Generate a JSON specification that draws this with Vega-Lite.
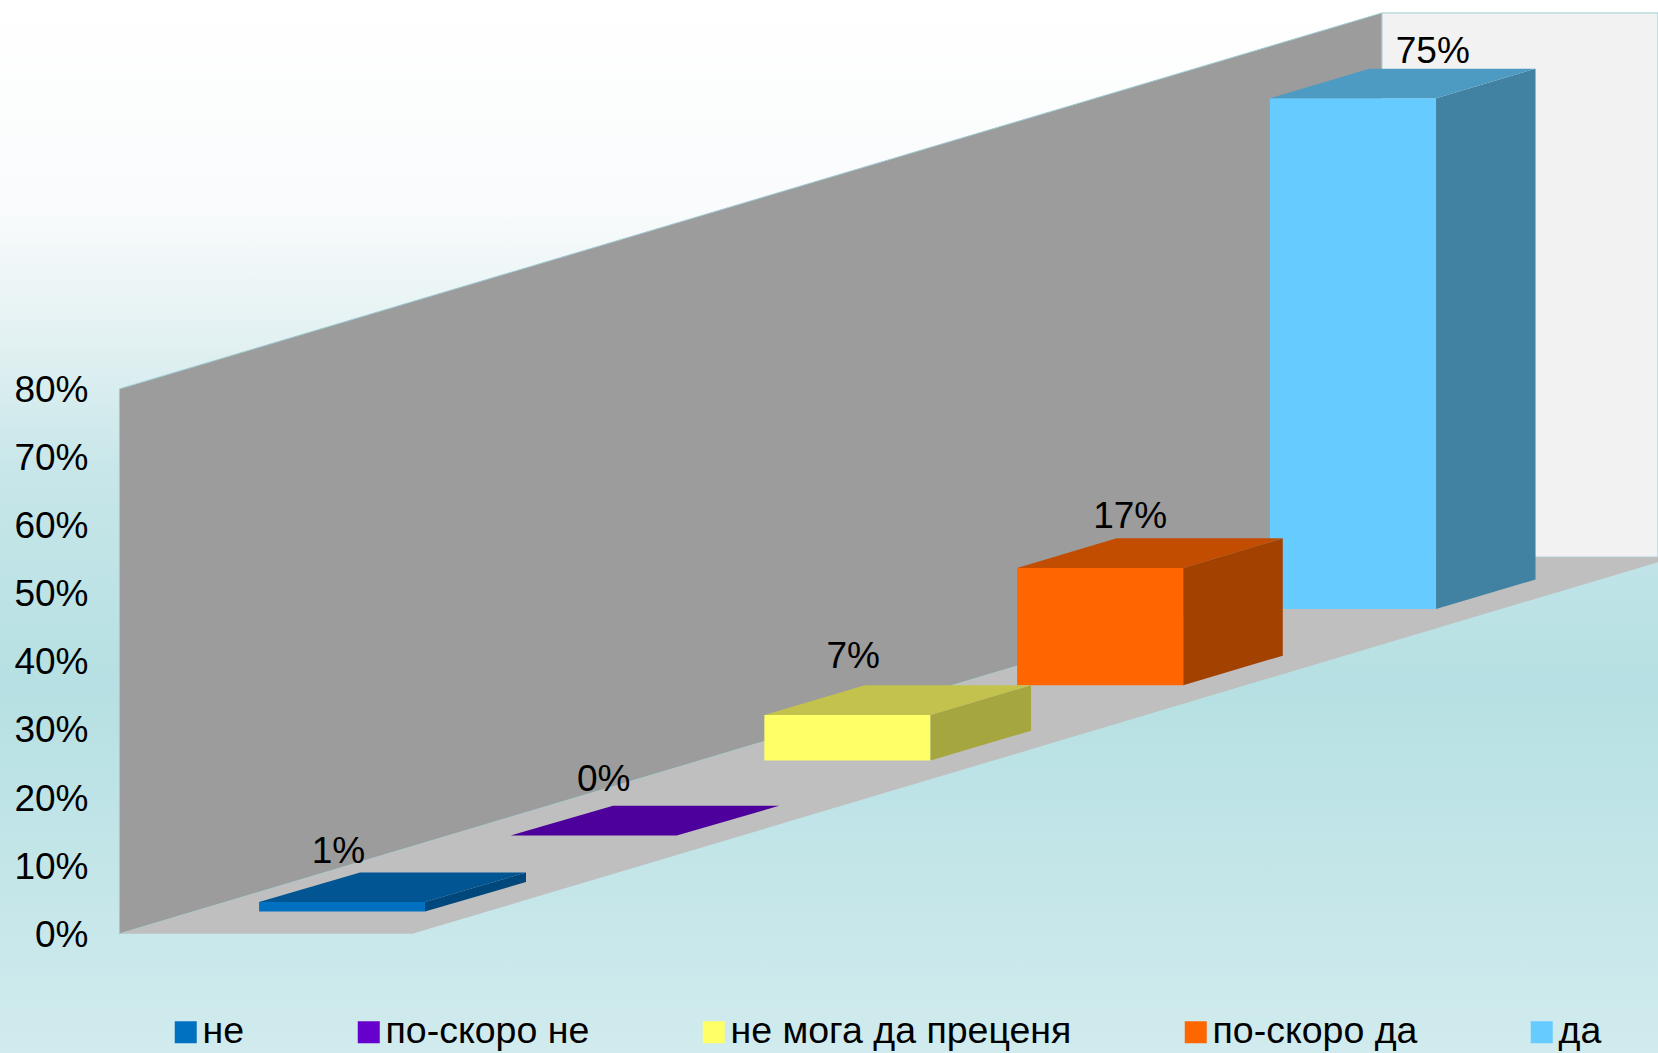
{"$schema":"https://vega.github.io/schema/vega-lite/v6.json","width":1658,"height":1053,"autosize":{"type":"none"},"padding":0,"background":"#ffffff","view":{"stroke":null,"fill":{"gradient":"linear","x1":0,"y1":0,"x2":0,"y2":1,"stops":[{"offset":0,"color":"#ffffff"},{"offset":0.2,"color":"#f9fbfc"},{"offset":0.32,"color":"#e3f1f2"},{"offset":0.45,"color":"#c7e6e9"},{"offset":0.65,"color":"#b6e0e3"},{"offset":1,"color":"#d1ebee"}]}},"config":{"font":"Liberation Sans"},"datasets":{"bars":[{"category":"не","value":1.4,"label":"1%","left":0.553,"right":1.21,"base":3.26,"top":4.66,"labelU":0.867,"labelV":12.11},{"category":"по-скоро не","value":0,"label":"0%","left":1.549,"right":2.207,"base":14.44,"top":14.44,"labelU":1.918,"labelV":22.67},{"category":"не мога да преценя","value":6.7,"label":"7%","left":2.554,"right":3.212,"base":25.46,"top":32.14,"labelU":2.906,"labelV":40.84},{"category":"по-скоро да","value":17.2,"label":"17%","left":3.555,"right":4.213,"base":36.49,"top":53.72,"labelU":4.003,"labelV":61.32},{"category":"да","value":75,"label":"75%","left":4.556,"right":5.214,"base":47.67,"top":122.67,"labelU":5.201,"labelV":129.65}],"sides":[{"category":"не","u":1.21,"v":3.26,"v2":4.66},{"category":"не","u":1.61,"v":7.61,"v2":9.01},{"category":"не мога да преценя","u":3.212,"v":25.46,"v2":32.14},{"category":"не мога да преценя","u":3.61,"v":29.81,"v2":36.49},{"category":"по-скоро да","u":4.213,"v":36.49,"v2":53.72},{"category":"по-скоро да","u":4.607,"v":40.84,"v2":58.07},{"category":"да","u":5.214,"v":47.67,"v2":122.67},{"category":"да","u":5.608,"v":52.02,"v2":127.02}],"tops":[{"category":"не","v":4.66,"u":0.553,"u2":1.21},{"category":"не","v":9.01,"u":0.953,"u2":1.61},{"category":"по-скоро не","v":14.44,"u":1.549,"u2":2.207},{"category":"по-скоро не","v":18.79,"u":1.955,"u2":2.613},{"category":"не мога да преценя","v":32.14,"u":2.554,"u2":3.212},{"category":"не мога да преценя","v":36.49,"u":2.952,"u2":3.61},{"category":"по-скоро да","v":53.72,"u":3.555,"u2":4.213},{"category":"по-скоро да","v":58.07,"u":3.949,"u2":4.607},{"category":"да","v":122.67,"u":4.556,"u2":5.214},{"category":"да","v":127.02,"u":4.95,"u2":5.608}],"walls":[{"wall":"left","u":0,"v":0,"v2":80},{"wall":"left","u":5,"v":55.3,"v2":135.2},{"wall":"right","u":5,"v":55.3,"v2":135.2},{"wall":"right","u":6.093,"v":55.3,"v2":135.2}],"floor":[{"v":0,"u":0,"u2":1.16},{"v":55.3,"u":5,"u2":6.16}]},"layer":[{"data":{"name":"walls"},"mark":{"type":"area","strokeWidth":1,"stroke":"#9fcbd2"},"encoding":{"x":{"field":"u","type":"quantitative","scale":{"domain":[-0.473,6.093],"nice":false,"zero":false},"axis":null},"y":{"field":"v","type":"quantitative","stack":null,"scale":{"domain":[-17.5,137.1],"nice":false,"zero":false},"axis":{"values":[0,10,20,30,40,50,60,70,80],"labelExpr":"datum.value + '%'","title":null,"orient":"left","offset":-96,"labelPadding":8,"labelOffset":1.5,"ticks":false,"domain":false,"grid":false,"labelFontSize":37,"labelColor":"#000000","labelFont":"Liberation Sans","zindex":1}},"y2":{"field":"v2"},"color":{"field":"wall","type":"nominal","scale":{"domain":["left","right"],"range":["#9c9c9c","#f2f2f2"]},"legend":null}}},{"data":{"name":"floor"},"mark":{"type":"area","orient":"horizontal","color":"#bfbfbf","clip":true},"encoding":{"y":{"field":"v","type":"quantitative","scale":{"domain":[-17.5,137.1],"nice":false,"zero":false},"axis":null},"x":{"field":"u","type":"quantitative","stack":null,"scale":{"domain":[-0.473,6.093],"nice":false,"zero":false},"axis":null},"x2":{"field":"u2"}}},{"data":{"name":"bars"},"mark":{"type":"rect"},"encoding":{"x":{"field":"left","type":"quantitative","scale":{"domain":[-0.473,6.093],"nice":false,"zero":false},"axis":null},"x2":{"field":"right"},"y":{"field":"base","type":"quantitative","scale":{"domain":[-17.5,137.1],"nice":false,"zero":false},"axis":null},"y2":{"field":"top"},"color":{"field":"category","type":"nominal","scale":{"domain":["не","по-скоро не","не мога да преценя","по-скоро да","да"],"range":["#0070c0","#6600cc","#ffff66","#ff6600","#66ccff"]},"legend":{"orient":"none","legendX":167,"legendY":1013.5,"direction":"horizontal","columns":5,"columnPadding":105,"gridAlign":"none","title":null,"symbolType":"square","symbolSize":484,"symbolStrokeWidth":0,"labelFontSize":37.5,"labelFont":"Liberation Sans","labelColor":"#000000","labelOffset":-2,"labelLimit":500}}}},{"data":{"name":"sides"},"mark":{"type":"area"},"encoding":{"x":{"field":"u","type":"quantitative","scale":{"domain":[-0.473,6.093],"nice":false,"zero":false},"axis":null},"y":{"field":"v","type":"quantitative","stack":null,"scale":{"domain":[-17.5,137.1],"nice":false,"zero":false},"axis":null},"y2":{"field":"v2"},"color":{"field":"category","type":"nominal","scale":{"domain":["не","по-скоро не","не мога да преценя","по-скоро да","да"],"range":["#00487b","#410083","#a6a641","#a34100","#4182a3"]},"legend":null}}},{"data":{"name":"tops"},"mark":{"type":"area","orient":"horizontal"},"encoding":{"y":{"field":"v","type":"quantitative","scale":{"domain":[-17.5,137.1],"nice":false,"zero":false},"axis":null},"x":{"field":"u","type":"quantitative","stack":null,"scale":{"domain":[-0.473,6.093],"nice":false,"zero":false},"axis":null},"x2":{"field":"u2"},"color":{"field":"category","type":"nominal","scale":{"domain":["не","по-скоро не","не мога да преценя","по-скоро да","да"],"range":["#005592","#4d009b","#c2c24d","#c24d00","#4d9bc2"]},"legend":null}}},{"data":{"name":"bars"},"mark":{"type":"text","fontSize":37,"color":"#000000","baseline":"middle","align":"center","dy":1},"encoding":{"x":{"field":"labelU","type":"quantitative","scale":{"domain":[-0.473,6.093],"nice":false,"zero":false},"axis":null},"y":{"field":"labelV","type":"quantitative","scale":{"domain":[-17.5,137.1],"nice":false,"zero":false},"axis":null},"text":{"field":"label","type":"nominal"}}}],"resolve":{"scale":{"color":"independent"},"axis":{"y":"independent"}}}
